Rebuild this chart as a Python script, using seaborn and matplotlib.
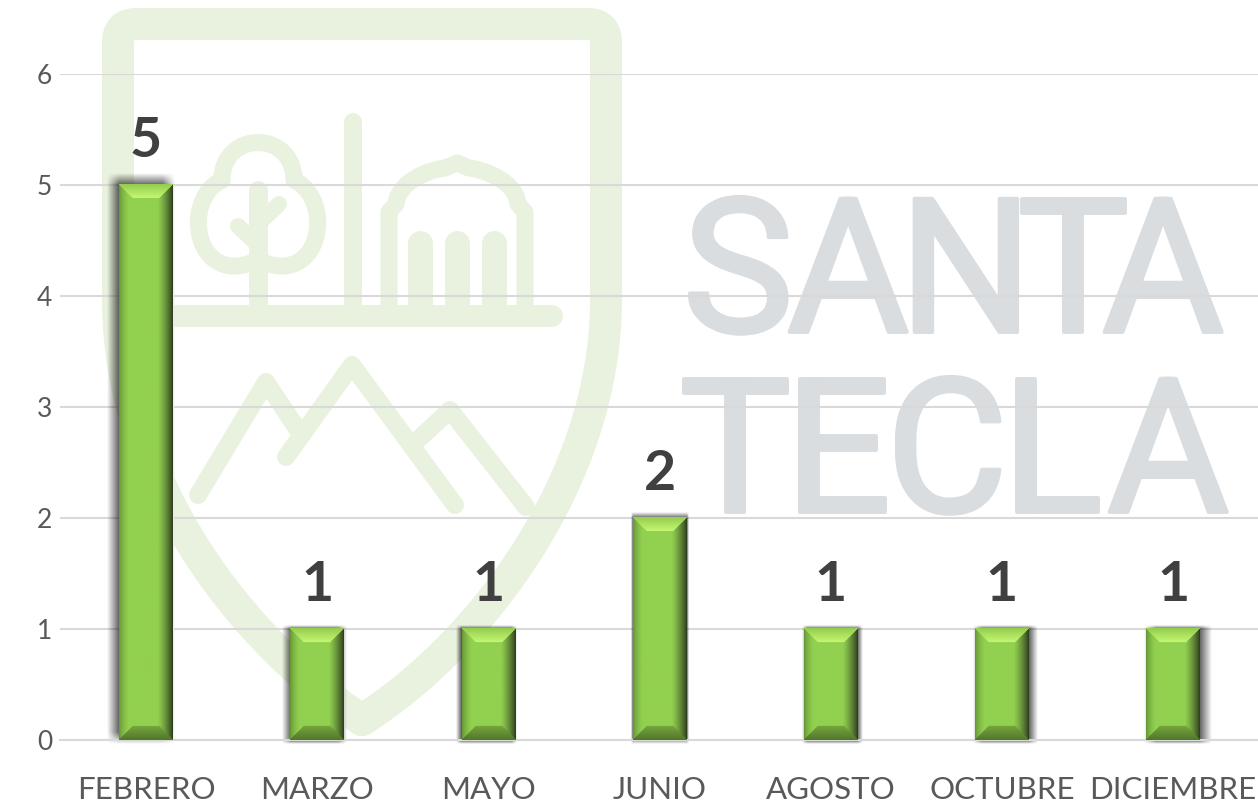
#!/usr/bin/env python3
# Casos por mes, barras verdes biseladas sobre marca de agua de Santa Tecla

import numpy as np
import matplotlib
matplotlib.use("Agg")
import matplotlib.pyplot as plt
import matplotlib.patheffects as pe
from matplotlib.colors import to_rgb
from matplotlib.patches import PathPatch
from matplotlib.path import Path
import seaborn as sns

# ---------------------------------
# Data
# ---------------------------------
meses = ["FEBRERO", "MARZO", "MAYO", "JUNIO", "AGOSTO", "OCTUBRE", "DICIEMBRE"]
casos = [5, 1, 1, 2, 1, 1, 1]
y_ticks = [0, 1, 2, 3, 4, 5, 6]

W, H = 1258, 805
LOGO = "#E9F2DE"
WATER = "#D9DDE0"
GRID = "#D9D9D9"
TEXT = "#595959"

sns.set_theme(style="white")
plt.rcParams["font.family"] = ["Lato", "DejaVu Sans"]

fig = plt.figure(figsize=(W / 100, H / 100), dpi=100, facecolor="white")

# ---------------------------------
# Watermark (pixel coordinates)
# ---------------------------------
bg = fig.add_axes([0, 0, 1, 1], zorder=0)
bg.set_xlim(0, W)
bg.set_ylim(H, 0)
bg.axis("off")

M, L, C3, C4 = Path.MOVETO, Path.LINETO, Path.CURVE3, Path.CURVE4


def stroke(verts, codes, width):
    bg.add_patch(PathPatch(Path(verts, codes), fc="none", ec=LOGO, lw=width * 0.72,
                           capstyle="round", joinstyle="round"))


def polyline(pts, width):
    stroke(pts, [M] + [L] * (len(pts) - 1), width)


# shield
stroke([(362, 720), (480, 645), (606, 480), (606, 300), (606, 42), (606, 24), (588, 24),
        (136, 24), (118, 24), (118, 42), (118, 300), (118, 480), (240, 640), (362, 720)],
       [M, C4, C4, C4, L, C3, C3, L, C3, C3, L, C4, C4, C4], 32)

# ground, pole
polyline([(120, 316), (552, 316)], 22)
polyline([(353, 122), (353, 310)], 18)

# tree
stroke([(222, 180), (222, 130), (294, 130), (294, 180), (336, 200), (321, 290), (258, 260),
        (195, 290), (180, 200), (222, 180)],
       [M, C4, C4, C4, C4, C4, C4, C4, C4, C4], 17)
polyline([(258, 190), (258, 308)], 19)
polyline([(258, 245), (238, 226)], 16)
polyline([(258, 224), (279, 204)], 16)

# dome
stroke([(389, 306), (389, 212), (396, 204), (398, 182), (428, 170), (445, 168), (457, 163), (469, 168),
        (486, 170), (516, 182), (518, 204), (525, 212), (525, 306)],
       [M, L, L, C4, C4, C4, L, L, C4, C4, C4, L, L], 17)
for cx in [420, 457, 494]:
    polyline([(cx, 243), (cx, 306)], 25)

# mountains
polyline([(198, 495), (266, 382), (298, 430)], 18)
polyline([(286, 457), (352, 365), (455, 505)], 18)
polyline([(420, 438), (450, 410), (526, 507)], 18)

# lettering, one letter at a time to follow the tight spacing
santa_x = [738, 848, 966, 1073, 1163]
tecla_x = [735, 838, 947, 1052, 1168]
for word, xs, base in [("SANTA", santa_x, 332), ("TECLA", tecla_x, 512)]:
    for ch, x in zip(word, xs):
        bg.text(x, base, ch, fontsize=135, family="Roboto", fontweight="normal", color=WATER,
                ha="center", va="baseline",
                path_effects=[pe.withStroke(linewidth=2.8, foreground=WATER)])

# ---------------------------------
# Bars
# ---------------------------------
ax = fig.add_axes([60.4 / W, (H - 740) / H, (W - 60.4 + 0.8) / W, 666 / H], zorder=1)
ax.patch.set_alpha(0)
sns.barplot(x=meses, y=casos, color="#92D050", saturation=1, width=0.3125, ax=ax)
ax.set_xlim(-0.5, 6.5)
ax.set_ylim(0, 6)
ax.set_yticks(y_ticks)
ax.set_xlabel("")
ax.set_ylabel("")
ax.set_axisbelow(True)
ax.yaxis.grid(True, color=GRID, lw=1.5)
ax.xaxis.grid(False)
sns.despine(ax=ax, left=True, top=True, right=True)
ax.spines["bottom"].set_color(GRID)
ax.spines["bottom"].set_linewidth(1.5)
ax.tick_params(axis="y", length=0, pad=6, labelsize=19, labelcolor=TEXT)
ax.tick_params(axis="x", length=0, pad=26, labelsize=22.5, labelcolor=TEXT)

px_x = 7 / ax.get_position().width / W
px_y = 6 / ax.get_position().height / H


def bevel_image(w, h, b=14):
    # mitred bevel colours, per pixel
    yy, xx = np.mgrid[0:h, 0:w] + 0.5
    d = np.stack([yy, h - yy, xx, w - xx])
    side = d.argmin(axis=0)
    dist = d.min(axis=0)
    base = np.array(to_rgb("#92D050"))
    # outer colour, inner colour, ramp width, ramp power
    ramps = [("#93CC4E", "#C4F870", 14, 1.0), ("#50762A", "#76A63E", 14, 1.0),
             ("#5F8C33", "#92D050", 9, 0.6), ("#26341A", "#8CC64D", 13, 0.75)]
    img = np.zeros((h, w, 3))
    for k, (c0, c1, width, power) in enumerate(ramps):
        t = (np.clip(dist / width, 0, 1) ** power)[..., None]
        col = np.array(to_rgb(c0)) * (1 - t) + np.array(to_rgb(c1)) * t
        img = np.where((side == k)[..., None], col, img)
    img[dist >= b] = base
    return img


def shadow_image(w, h, blur_x, blur_y):
    # soft rectangle alpha
    yy, xx = np.mgrid[0:h, 0:w] + 0.5
    a_x = np.clip(np.minimum(xx, w - xx) / blur_x, 0, 1)
    a_y = np.clip(np.minimum(yy, h - yy) / blur_y, 0, 1)
    img = np.zeros((h, w, 4))
    img[..., 3] = a_x * a_y * 0.62
    return img


for bar in ax.patches:
    x0, x1 = bar.get_x(), bar.get_x() + bar.get_width()
    top = bar.get_height()
    w_px = int(round((x1 - x0) / px_x))
    h_px = int(round(top / px_y))

    # shadow leans away from the middle of the chart
    shift = ((x0 + x1) / 2 - 3) * 3.4
    blur_x = abs(shift) + 2
    blur_y = 2 + h_px * 0.018
    sx0 = x0 + (min(shift, 0) - 2) * px_x
    sx1 = x1 + (max(shift, 0) + 2) * px_x
    sy0 = -4 * px_y
    sy1 = top + blur_y * px_y
    sh = shadow_image(int(round((sx1 - sx0) / px_x)), int(round((sy1 - sy0) / px_y)), blur_x, blur_y)
    ax.imshow(sh, extent=(sx0, sx1, sy0, sy1), aspect="auto", zorder=2.4, clip_on=False, interpolation="bilinear")

    ax.imshow(bevel_image(w_px, h_px), extent=(x0, x1, 0, top), aspect="auto", zorder=2.6, interpolation="bilinear")

ax.set_xlim(-0.5, 6.5)
ax.set_ylim(0, 6)

# ---------------------------------
# Value labels
# ---------------------------------
for i, v in enumerate(casos):
    ax.annotate(str(v), (i, v), xytext=(0, 20), textcoords="offset points", ha="center", va="baseline",
                fontsize=40, fontweight="bold", color="#404040", zorder=5)

fig.savefig("out.png", dpi=100)
plt.close(fig)
